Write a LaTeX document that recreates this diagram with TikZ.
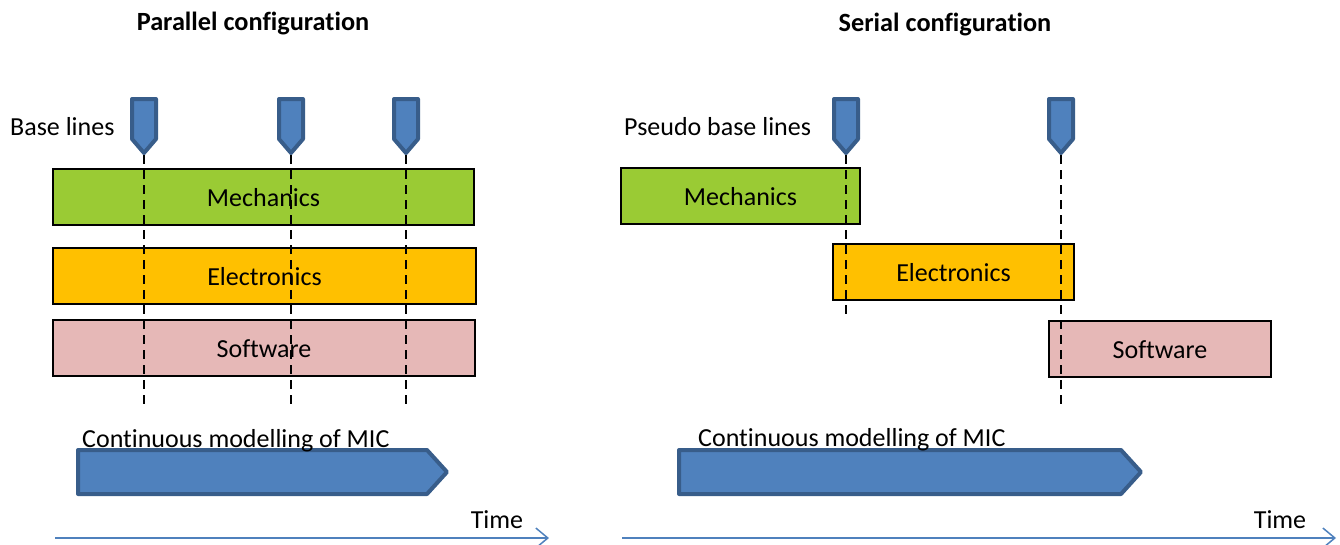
\documentclass[tikz,border=0pt]{standalone}
\usepackage{fontspec}
\setmainfont[Ligatures=NoCommon]{Carlito}
\usetikzlibrary{arrows.meta}
\definecolor{pinfill}{HTML}{4F81BD}
\definecolor{pinedge}{HTML}{385D8A}
\definecolor{mechfill}{HTML}{9ACB34}
\definecolor{elecfill}{HTML}{FFC000}
\definecolor{softfill}{HTML}{E6B8B7}
\definecolor{axisblue}{HTML}{4F81BD}
\tikzset{
  txt/.style={inner sep=0pt, font=\fontsize{26}{30}\selectfont},
  title/.style={txt, font=\fontsize{26.3}{30}\selectfont\bfseries},
  bar/.style={txt, draw=black, line width=1.3pt, minimum height=56pt, text height=18pt, text depth=0pt},
  blueshape/.style={fill=pinfill, draw=pinedge, line width=4pt, line join=round},
  baseline/.style={black, line width=2.5pt, dash pattern=on 9pt off 6pt},
  timeaxis/.style={axisblue, line width=1.8pt, -{Straight Barb[length=12pt,width=20pt,line width=1.5pt]}},
  basepin/.pic={
    \draw[blueshape] (-12,99) -- (12,99) -- (12,139) -- (0,153) -- (-12,139) -- cycle;
    \coordinate (-tip) at (0,155);
  }
}
\begin{document}
\begin{tikzpicture}[x=1pt, y=-1pt]
\useasboundingbox (0,0) rectangle (1340,544);

% ---------- parallel configuration ----------
\node[title, anchor=base] (ptitle) at (253,30) {Parallel configuration};
\node[txt, anchor=base west] (plabel) at (10,135) {Base lines};

\node[bar, fill=mechfill, minimum width=421pt] (pmech) at (263.5,197) {Mechanics};
\node[bar, fill=elecfill, minimum width=423pt] (pelec) at (264.5,276) {Electronics};
\node[bar, fill=softfill, minimum width=422pt] (psoft) at (264,348) {Software};

\foreach \n/\x in {1/144, 2/291, 3/406} {
  \pic (pp\n) at (\x,0) {basepin};
  \coordinate (pe\n) at (\x,405);
  \draw[baseline] (pp\n-tip) -- (pe\n);
}

\draw[blueshape] (78,450) -- (427,450) -- (447,472) -- (427,494) -- (78,494) -- cycle;
\node[txt, anchor=base west] (pcont) at (82,447) {Continuous modelling of MIC};

\coordinate (pt0) at (55,538);
\coordinate (pt1) at (549,538);
\draw[timeaxis] (pt0) -- (pt1);
\node[txt, anchor=base] (ptime) at (497,528) {Time};

% ---------- serial configuration ----------
\node[title, anchor=base] (stitle) at (945,31) {Serial configuration};
\node[txt, anchor=base west] (slabel) at (624,135) {Pseudo base lines};

\node[bar, fill=mechfill, minimum width=239pt] (smech) at (740.5,196) {Mechanics};
\node[bar, fill=elecfill, minimum width=241pt] (selec) at (953.5,272) {Electronics};
\node[bar, fill=softfill, minimum width=222pt] (ssoft) at (1160,349) {Software};

\pic (sp1) at (846,0) {basepin};
\pic (sp2) at (1061,0) {basepin};
\coordinate (se1) at (846,316);
\coordinate (se2) at (1061,404);
\draw[baseline] (sp1-tip) -- (se1);
\draw[baseline] (sp2-tip) -- (se2);

\draw[blueshape] (679,450) -- (1121,450) -- (1141,472) -- (1121,494) -- (679,494) -- cycle;
\node[txt, anchor=base west] (scont) at (698,446) {Continuous modelling of MIC};

\coordinate (st0) at (622,538);
\coordinate (st1) at (1336,538);
\draw[timeaxis] (st0) -- (st1);
\node[txt, anchor=base] (stime) at (1280,528) {Time};
\end{tikzpicture}
\end{document}
